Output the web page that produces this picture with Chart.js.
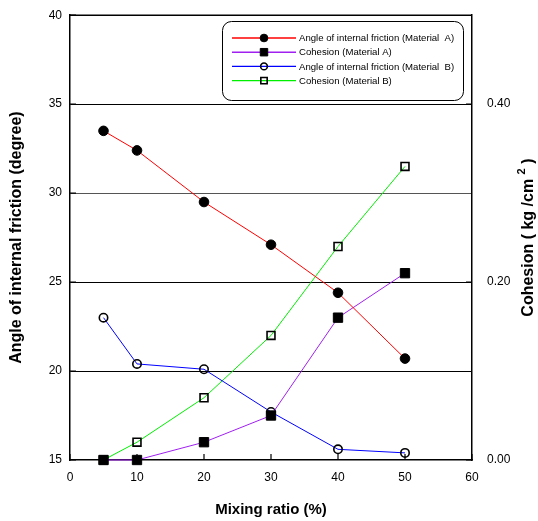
<!DOCTYPE html>
<html>
<head>
<meta charset="utf-8">
<title>Mixing ratio vs. friction angle and cohesion</title>
<script src="https://cdn.jsdelivr.net/npm/chart.js@4.4.1/dist/chart.umd.min.js"></script>
<style>
  body { margin: 0; background: #fff; }
  #wrap { width: 538px; height: 521px; }
</style>
</head>
<body>
<div id="wrap"><canvas id="shearChart" width="538" height="521"></canvas></div>
<script>
// mixing ratio (%) of each test
const mixRatio = [5, 10, 20, 30, 40, 50];

// angle of internal friction (degree)
const frictionA = [33.5, 32.4, 29.5, 27.1, 24.4, 20.7];
const frictionB = [23.0, 20.4, 20.1, 17.7, 15.6, 15.4];

// cohesion (kg/cm2)
const cohesionA = [0.00, 0.00, 0.02, 0.05, 0.16, 0.21];
const cohesionB = [0.00, 0.02, 0.07, 0.14, 0.24, 0.33];

const seriesLabels = [
    'Angle of internal friction (Material  A)',
    'Cohesion (Material A)',
    'Angle of internal friction (Material  B)',
    'Cohesion (Material B)'
];

const xTicks = [0, 10, 20, 30, 40, 50, 60];
const leftTicks = [15, 20, 25, 30, 35, 40];
const rightTicks = [0, 0.2, 0.4];

const FONT = '"Liberation Sans", Arial, Helvetica, sans-serif';
Chart.defaults.font.family = FONT;
Chart.defaults.color = '#000';

function toPoints(ys) {
    return mixRatio.map((x, i) => ({ x: x, y: ys[i] }));
}

// draws a point marker with Chart.js' own helper
function marker(ctx, style, radius, x, y) {
    Chart.helpers.drawPoint(ctx, { pointStyle: style, radius: radius, rotation: 0, borderWidth: ctx.lineWidth }, x, y);
}

// top edge of the frame + inward tick marks
const framePlugin = {
    id: 'frame',
    beforeDatasetsDraw(chart) {
        const { ctx, chartArea: a, scales } = chart;
        ctx.save();
        ctx.strokeStyle = '#000';
        ctx.lineWidth = 1.5;
        ctx.beginPath();
        ctx.moveTo(a.left, a.top);
        ctx.lineTo(a.right, a.top);
        ctx.stroke();

        ctx.lineWidth = 1.2;
        ctx.beginPath();
        xTicks.forEach(v => {
            const px = scales.x.getPixelForValue(v);
            ctx.moveTo(px, a.bottom);
            ctx.lineTo(px, a.bottom - 6);
        });
        leftTicks.forEach(v => {
            const py = scales.y.getPixelForValue(v);
            ctx.moveTo(a.left, py);
            ctx.lineTo(a.left + 6, py);
        });
        rightTicks.forEach(v => {
            const py = scales.y1.getPixelForValue(v);
            ctx.moveTo(a.right, py);
            ctx.lineTo(a.right - 6, py);
        });
        ctx.stroke();
        ctx.restore();
    },
    afterDraw(chart) {
        const { ctx } = chart;
        ctx.save();

        // legend box
        const bx = 222, by = 21, bw = 241, bh = 79, r = 9;
        ctx.strokeStyle = '#000';
        ctx.lineWidth = 1;
        ctx.beginPath();
        ctx.roundRect(bx + 0.5, by + 0.5, bw, bh, r);
        ctx.fillStyle = '#fff';
        ctx.fill();
        ctx.stroke();

        ctx.font = '9.6px ' + FONT;
        ctx.textBaseline = 'middle';
        chart.data.datasets.forEach((ds, i) => {
            const y = 38 + i * 14.2;
            ctx.strokeStyle = ds.borderColor;
            ctx.lineWidth = ds.borderWidth + 0.4;
            ctx.beginPath();
            ctx.moveTo(232, y);
            ctx.lineTo(296, y);
            ctx.stroke();

            ctx.fillStyle = ds.pointBackgroundColor;
            ctx.strokeStyle = ds.pointBorderColor;
            ctx.lineWidth = ds.pointBorderWidth;
            marker(ctx, ds.pointStyle, ds.pointRadius * 0.8, 264, y);

            ctx.fillStyle = '#000';
            ctx.fillText(ds.label, 299, y + 0.5);
        });

        // right axis title, reads bottom to top, with superscript 2
        const main1 = 'Cohesion ( kg /cm ';
        const sup = '2';
        const main2 = ' )';
        const bold = 'bold 16px ' + FONT;
        const supFont = 'bold 11px ' + FONT;
        ctx.font = bold;
        const w1 = ctx.measureText(main1).width;
        const w3 = ctx.measureText(main2).width;
        ctx.font = supFont;
        const w2 = ctx.measureText(sup).width;
        const total = w1 + w2 + w3;

        ctx.translate(533, (chart.chartArea.top + chart.chartArea.bottom) / 2);
        ctx.rotate(-Math.PI / 2);
        ctx.textBaseline = 'alphabetic';
        ctx.textAlign = 'left';
        ctx.fillStyle = '#000';
        let x0 = -total / 2;
        ctx.font = bold;
        ctx.fillText(main1, x0, 0);
        ctx.font = supFont;
        ctx.fillText(sup, x0 + w1, -8);
        ctx.font = bold;
        ctx.fillText(main2, x0 + w1 + w2, 0);
        ctx.restore();
    }
};

const ctx = document.getElementById('shearChart').getContext('2d');
const shearChart = new Chart(ctx, {
    type: 'line',
    data: {
        datasets: [{
            label: seriesLabels[0],
            data: toPoints(frictionA),
            yAxisID: 'y',
            borderColor: '#ff0000',
            borderWidth: 1,
            pointStyle: 'circle',
            pointRadius: 4.8,
            pointBackgroundColor: '#000',
            pointBorderColor: '#000',
            pointBorderWidth: 1,
            clip: false
        }, {
            label: seriesLabels[1],
            data: toPoints(cohesionA),
            yAxisID: 'y1',
            borderColor: '#a020f0',
            borderWidth: 1,
            pointStyle: 'rect',
            pointRadius: 6.6,
            pointBackgroundColor: '#000',
            pointBorderColor: '#000',
            pointBorderWidth: 1,
            clip: false
        }, {
            label: seriesLabels[2],
            data: toPoints(frictionB),
            yAxisID: 'y',
            borderColor: '#0000ff',
            borderWidth: 1,
            pointStyle: 'circle',
            pointRadius: 4.2,
            pointBackgroundColor: 'rgba(255,255,255,0)',
            pointBorderColor: '#000',
            pointBorderWidth: 1.6,
            clip: false
        }, {
            label: seriesLabels[3],
            data: toPoints(cohesionB),
            yAxisID: 'y1',
            borderColor: '#00ee00',
            borderWidth: 1,
            pointStyle: 'rect',
            pointRadius: 5.6,
            pointBackgroundColor: 'rgba(255,255,255,0)',
            pointBorderColor: '#000',
            pointBorderWidth: 1.6,
            clip: false
        }]
    },
    options: {
        responsive: false,
        animation: false,
        layout: { padding: { top: 13, left: 0, right: 0, bottom: 0 } },
        elements: { line: { tension: 0 } },
        plugins: {
            legend: { display: false },
            tooltip: { enabled: false }
        },
        scales: {
            x: {
                type: 'linear',
                min: 0,
                max: 60,
                afterBuildTicks: s => { s.ticks = xTicks.map(v => ({ value: v })); },
                afterFit: s => { s.height = 61; },
                ticks: { font: { size: 12 }, padding: 2, maxRotation: 0 },
                grid: { display: false },
                border: { color: '#000', width: 1.5 },
                title: {
                    display: true,
                    text: 'Mixing ratio (%)',
                    font: { size: 15, weight: 'bold' },
                    padding: { top: 0, bottom: 2 }
                }
            },
            y: {
                position: 'left',
                min: 15,
                max: 40,
                afterBuildTicks: s => { s.ticks = leftTicks.map(v => ({ value: v })); },
                afterFit: s => { s.width = 70; },
                ticks: { font: { size: 12 }, padding: 8 },
                grid: {
                    drawTicks: false,
                    lineWidth: 1,
                    color: c => {
                        if (!c.tick) return 'rgba(0,0,0,0)';
                        if (c.tick.value === 30) return '#555';
                        return (c.tick.value > 15 && c.tick.value < 40) ? '#000' : 'rgba(0,0,0,0)';
                    }
                },
                border: { color: '#000', width: 1.5 },
                title: {
                    display: true,
                    text: 'Angle of internal friction (degree)',
                    font: { size: 16, weight: 'bold' },
                    padding: { top: 7, bottom: 0 }
                }
            },
            y1: {
                position: 'right',
                min: 0,
                max: 0.5,
                afterBuildTicks: s => { s.ticks = rightTicks.map(v => ({ value: v })); },
                afterFit: s => { s.width = 66; },
                ticks: { font: { size: 12 }, padding: 7, callback: v => v.toFixed(2) },
                grid: { display: false },
                border: { color: '#000', width: 1.5 }
            }
        }
    },
    plugins: [framePlugin]
});
</script>
</body>
</html>
